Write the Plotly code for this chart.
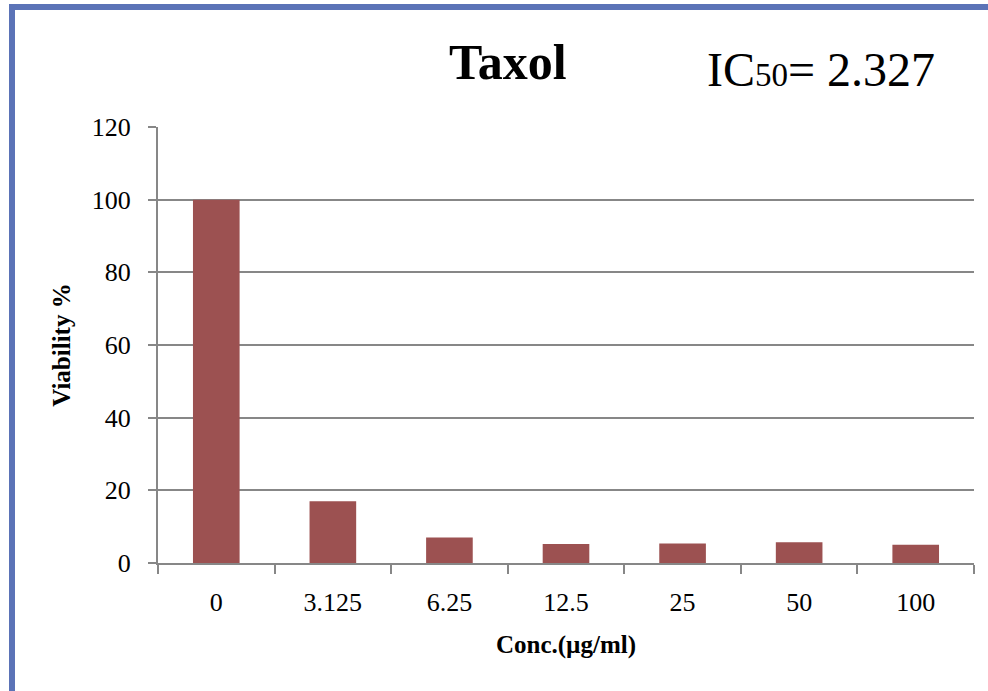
import plotly.graph_objects as go

categories = ["0", "3.125", "6.25", "12.5", "25", "50", "100"]
viability = [100, 17, 7, 5.2, 5.4, 5.7, 5.0]
y_ticks = [0, 20, 40, 60, 80, 100, 120]

FONT = "Palatino Linotype, Book Antiqua, Palatino, Liberation Serif, DejaVu Serif, serif"
GRID = "#878787"

W, H = 988, 691
ML, MR, MT, MB = 158, 14, 127, 128
PW, PH = W - ML - MR, H - MT - MB

def px_x(p):
    return (p - ML) / PW

def px_y(p):
    return (H - MB - p) / PH

fig = go.Figure(go.Bar(
    x=categories, y=viability,
    marker=dict(color="#9C5151", line=dict(width=0)),
    width=0.4,
))

fig.update_layout(
    width=W, height=H,
    margin=dict(l=ML, r=MR, t=MT, b=MB),
    paper_bgcolor="white", plot_bgcolor="white",
    showlegend=False,
    font=dict(family=FONT, color="black", size=26),
    xaxis=dict(
        type="category", showline=True, linecolor=GRID, linewidth=2,
        ticks="outside", tickson="boundaries", ticklen=9, tickcolor=GRID, tickwidth=2,
        showgrid=False, tickfont=dict(size=26), ticklabelstandoff=15,
        title=dict(text="<b>Conc.(µg/ml)</b>", font=dict(size=25), standoff=19),
    ),
    yaxis=dict(
        range=[0, 120], tickvals=y_ticks, showline=True, linecolor=GRID, linewidth=2,
        ticks="outside", ticklen=8, tickcolor=GRID, tickwidth=2,
        showgrid=True, gridcolor=GRID, gridwidth=1.5, zeroline=False,
        tickfont=dict(size=26), ticklabelstandoff=12,
        title=dict(text="<b>Viability %</b>", font=dict(size=25), standoff=14),
    ),
    annotations=[
        dict(text="<b>Taxol</b>", xref="paper", yref="paper",
             x=px_x(508), y=px_y(62), xanchor="center", yanchor="middle",
             showarrow=False, font=dict(size=50, family=FONT)),
        dict(text='IC<span style="font-size:33px">50</span>= 2.327', xref="paper", yref="paper",
             x=px_x(821), y=px_y(70), xanchor="center", yanchor="middle",
             showarrow=False, font=dict(size=48, family=FONT)),
    ],
    shapes=[
        dict(type="rect", xref="paper", yref="paper",
             x0=px_x(12), x1=px_x(1010), y0=px_y(720), y1=px_y(7),
             line=dict(color="#5B73B7", width=6), fillcolor="rgba(0,0,0,0)", layer="above"),
    ],
)

fig.write_html("out.html", config={"displayModeBar": False},
               post_script="document.body.style.margin='0';")
